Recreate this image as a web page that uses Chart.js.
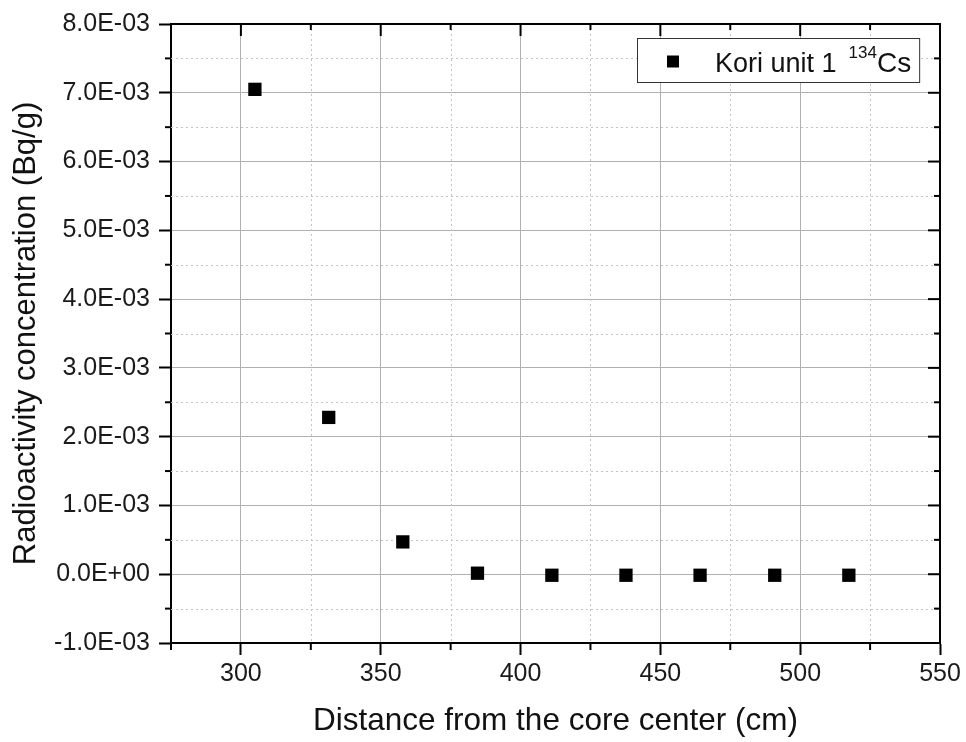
<!DOCTYPE html>
<html><head><meta charset="utf-8">
<script src="https://cdn.jsdelivr.net/npm/chart.js@4.4.1/dist/chart.umd.min.js"></script>
<style>html,body{margin:0;padding:0;background:#fff;} canvas{display:block;}</style>
</head><body>
<canvas id="c" width="966" height="742"></canvas>
<script>
// ---- data ----
const distanceCm = [305.0, 331.4, 357.9, 384.6, 411.2, 437.7, 464.2, 490.9, 517.4];
const concentrationBqPerG = [7.05e-3, 2.28e-3, 0.47e-3, 0.015e-3, -0.015e-3, -0.015e-3, -0.015e-3, -0.015e-3, -0.015e-3];
const xTickValues = [300, 350, 400, 450, 500, 550];
const xTickLabels = ['300', '350', '400', '450', '500', '550'];
const xMinorValues = [275, 325, 375, 425, 475, 525];
const yTickValues = [-1e-3, 0, 1e-3, 2e-3, 3e-3, 4e-3, 5e-3, 6e-3, 7e-3, 8e-3];
const yTickLabels = ['-1.0E-03', '0.0E+00', '1.0E-03', '2.0E-03', '3.0E-03', '4.0E-03', '5.0E-03', '6.0E-03', '7.0E-03', '8.0E-03'];
const yMinorValues = [-0.5e-3, 0.5e-3, 1.5e-3, 2.5e-3, 3.5e-3, 4.5e-3, 5.5e-3, 6.5e-3, 7.5e-3];
const seriesName = 'Kori unit 1';
const isotopeMass = '134';
const isotopeSymbol = 'Cs';
const xTitle = 'Distance from the core center (cm)';
const yTitle = 'Radioactivity concentration (Bq/g)';

const FONT = "'Liberation Sans', Arial, sans-serif";

function seg(ctx, x1, y1, x2, y2) { ctx.beginPath(); ctx.moveTo(x1, y1); ctx.lineTo(x2, y2); ctx.stroke(); }

const framePlugin = {
  id: 'frame',
  beforeDatasetsDraw(chart) {
    const { ctx, chartArea: { left, right, top, bottom }, scales: { x, y } } = chart;
    ctx.save();
    // minor dotted grid
    ctx.strokeStyle = '#c4c4c4'; ctx.lineWidth = 1; ctx.setLineDash([2, 3]);
    xMinorValues.forEach(v => {
      const px = Math.round(x.getPixelForValue(v)) + 0.5;
      if (px <= left + 2 || px >= right - 2) return;
      seg(ctx, px, top, px, bottom);
    });
    yMinorValues.forEach(v => {
      const py = Math.round(y.getPixelForValue(v)) + 0.5;
      if (py <= top + 2 || py >= bottom - 2) return;
      seg(ctx, left, py, right, py);
    });
    ctx.setLineDash([]);
    // frame
    ctx.strokeStyle = '#000'; ctx.lineWidth = 2;
    seg(ctx, left - 1, top, right + 1, top);
    seg(ctx, right, top, right, bottom + 1);
    // ticks
    xTickValues.forEach(v => { const px = x.getPixelForValue(v); seg(ctx, px, top, px, top + 12); });
    xMinorValues.forEach(v => {
      const px = x.getPixelForValue(v);
      seg(ctx, px, top, px, top + 6);
      seg(ctx, px, bottom, px, bottom + 7);
    });
    yTickValues.forEach(v => { const py = y.getPixelForValue(v); seg(ctx, right - 12, py, right, py); });
    yMinorValues.forEach(v => {
      const py = y.getPixelForValue(v);
      seg(ctx, right - 6, py, right, py);
      seg(ctx, left - 6, py, left, py);
    });
    ctx.restore();
  },
  afterDatasetsDraw(chart) {
    const { ctx } = chart;
    ctx.save();
    const boxL = 637, boxT = 38, boxH = 44;
    const textX = 715, baseY = 71.5;
    ctx.font = '27px ' + FONT;
    const w1 = ctx.measureText(seriesName).width + 12;
    ctx.font = '17px ' + FONT;
    const w2 = ctx.measureText(isotopeMass).width;
    ctx.font = '28px ' + FONT;
    const w3 = ctx.measureText(isotopeSymbol).width;
    const boxR = textX + w1 + w2 + w3 + 8;
    ctx.fillStyle = '#fff';
    ctx.fillRect(boxL, boxT, boxR - boxL, boxH);
    ctx.strokeStyle = '#333'; ctx.lineWidth = 1;
    ctx.strokeRect(boxL + 0.5, boxT + 0.5, boxR - boxL, boxH);
    // marker
    ctx.fillStyle = '#000';
    ctx.fillRect(673 - 6, 61.5 - 6, 12, 12);
    // text
    ctx.fillStyle = '#111';
    ctx.textBaseline = 'alphabetic'; ctx.textAlign = 'left';
    ctx.font = '27px ' + FONT;
    ctx.fillText(seriesName, textX, baseY);
    ctx.font = '17px ' + FONT;
    ctx.fillText(isotopeMass, textX + w1, 57.5);
    ctx.font = '28px ' + FONT;
    ctx.fillText(isotopeSymbol, textX + w1 + w2, baseY);
    ctx.restore();
  }
};

new Chart(document.getElementById('c'), {
  type: 'scatter',
  data: {
    datasets: [{
      label: seriesName + ' ' + isotopeMass + isotopeSymbol,
      data: distanceCm.map((x, i) => ({ x: x, y: concentrationBqPerG[i] })),
      pointStyle: 'rect',
      pointRadius: 9.4,
      pointHoverRadius: 9.4,
      backgroundColor: '#000',
      borderColor: '#000',
      borderWidth: 0
    }]
  },
  options: {
    responsive: false,
    animation: false,
    devicePixelRatio: 1,
    events: [],
    layout: { padding: { top: 23, right: 26, left: 0, bottom: 0 } },
    plugins: { legend: { display: false }, tooltip: { enabled: false } },
    scales: {
      x: {
        type: 'linear', min: 275, max: 550,
        afterBuildTicks: s => { s.ticks = xTickValues.map(v => ({ value: v })); },
        afterFit: s => { s.height = 99; },
        ticks: {
          callback: (v, i) => xTickLabels[i],
          font: { family: FONT, size: 25 }, color: '#1a1a1a',
          padding: 4, maxRotation: 0, autoSkip: false
        },
        grid: { color: '#b0b0b0', lineWidth: 1, tickLength: 12, tickColor: '#000', tickWidth: 2 },
        border: { color: '#000', width: 2 },
        title: { display: true, text: xTitle, font: { family: FONT, size: 31.5 }, color: '#111', padding: { top: 0, bottom: 2 } }
      },
      y: {
        type: 'linear', min: -1e-3, max: 8e-3,
        afterBuildTicks: s => { s.ticks = yTickValues.map(v => ({ value: v })); },
        afterFit: s => { s.width = 171; },
        ticks: {
          callback: (v, i) => yTickLabels[i],
          font: { family: FONT, size: 25 }, color: '#1a1a1a',
          padding: 9, autoSkip: false
        },
        grid: { color: '#b0b0b0', lineWidth: 1, tickLength: 12, tickColor: '#000', tickWidth: 2 },
        border: { color: '#000', width: 2 },
        title: { display: true, text: yTitle, font: { family: FONT, size: 31 }, color: '#111', padding: { top: 8, bottom: 0 } }
      }
    }
  },
  plugins: [framePlugin]
});
</script>
</body></html>
